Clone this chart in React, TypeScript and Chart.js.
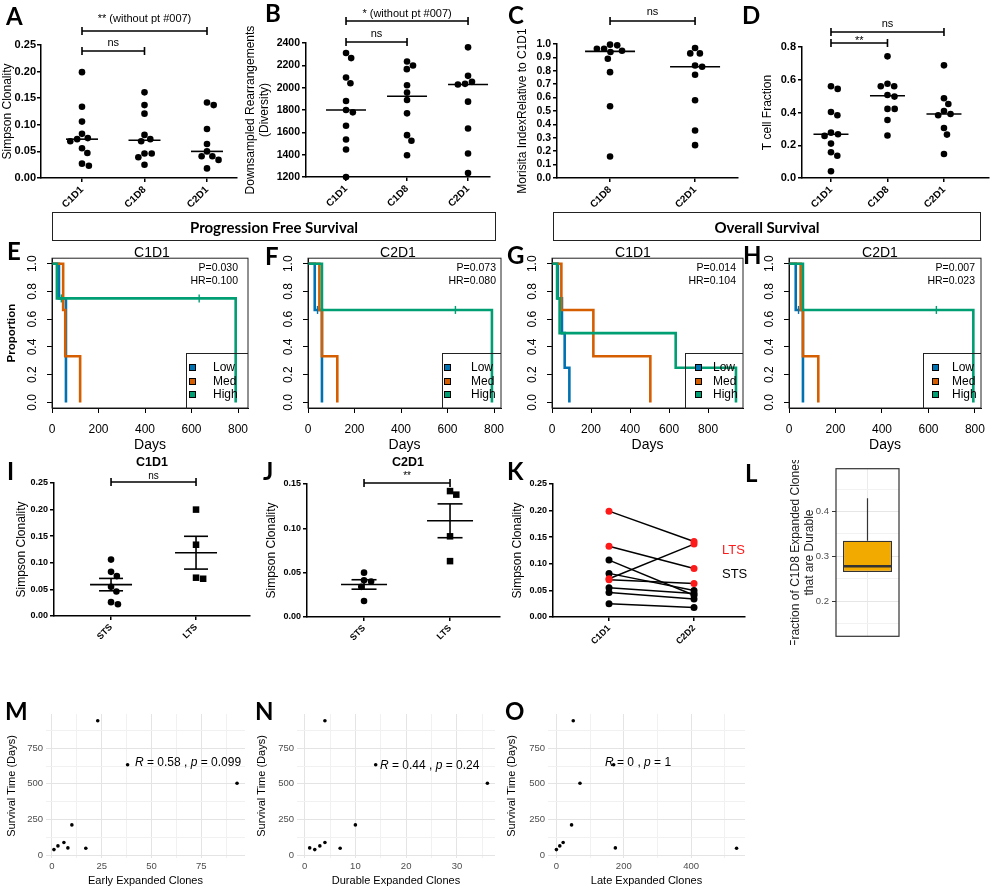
import React, { useEffect, useRef } from 'react';
import { Chart, registerables } from 'chart.js';

Chart.register(...registerables);

const SANS = '"Liberation Sans", Arial, Helvetica, sans-serif';
const LATO = 'Lato, "Liberation Sans", sans-serif';
Chart.defaults.font.family = SANS;
Chart.defaults.color = '#000';

// ---------------- DATA ----------------
const A_CATS = ['C1D1', 'C1D8', 'C2D1'];
const A_C1D1 = [0.199, 0.134, 0.106, 0.083, 0.075, 0.073, 0.069, 0.056, 0.047, 0.027, 0.023];
const A_C1D8 = [0.161, 0.137, 0.121, 0.081, 0.073, 0.069, 0.046, 0.046, 0.039, 0.025];
const A_C2D1 = [0.142, 0.137, 0.092, 0.064, 0.05, 0.041, 0.041, 0.034, 0.018];
const A_Y_TICKS = [0, 0.05, 0.1, 0.15, 0.2, 0.25];
const A_SIG = ['** (without pt #007)', 'ns'];

const B_C1D1 = [2310, 2265, 2091, 2040, 1881, 1800, 1779, 1659, 1536, 1446, 1200];
const B_C1D8 = [2235, 2199, 2166, 2022, 1956, 1890, 1770, 1575, 1524, 1395];
const B_C2D1 = [2361, 2106, 2052, 2034, 2028, 1875, 1635, 1410, 1236];
const B_Y_TICKS = [1200, 1400, 1600, 1800, 2000, 2200, 2400];
const B_SIG = ['* (without pt #007)', 'ns'];

const C_CATS = ['C1D8', 'C2D1'];
const C_C1D8 = [0.995, 0.99, 0.965, 0.965, 0.95, 0.94, 0.89, 0.79, 0.535, 0.16];
const C_C2D1 = [0.97, 0.93, 0.93, 0.84, 0.83, 0.77, 0.58, 0.355, 0.245];
const C_Y_TICKS = [0, 0.1, 0.2, 0.3, 0.4, 0.5, 0.6, 0.7, 0.8, 0.9, 1.0];
const C_SIG = ['ns'];

const D_C1D1 = [0.56, 0.544, 0.403, 0.383, 0.277, 0.267, 0.257, 0.21, 0.157, 0.136, 0.041];
const D_C1D8 = [0.743, 0.576, 0.56, 0.56, 0.507, 0.497, 0.422, 0.422, 0.354, 0.26];
const D_C2D1 = [0.688, 0.487, 0.452, 0.409, 0.391, 0.383, 0.305, 0.265, 0.147];
const D_Y_TICKS = [0, 0.2, 0.4, 0.6, 0.8];
const D_SIG = ['ns', '**'];

const KM_X_TICKS = [0, 200, 400, 600, 800];
const KM_Y_TICKS = [0, 0.2, 0.4, 0.6, 0.8, 1.0];
const KM_GROUPS = ['Low', 'Med', 'High'];
const KM_COLORS = ['#0072B2', '#D55E00', '#009E73'];

const E_LOW_T = [0, 30, 60];
const E_LOW_S = [1, 0.75, 0];
const E_MED_T = [0, 48, 57, 121];
const E_MED_S = [1, 0.667, 0.333, 0];
const E_HIGH_T = [0, 21, 790];
const E_HIGH_S = [1, 0.75, 0];
const E_HIGH_CENS_T = [40, 633];
const E_HIGH_CENS_S = [0.75, 0.75];
const E_STATS = ['P=0.030', 'HR=0.100'];

const F_LOW_T = [0, 29, 60];
const F_LOW_S = [1, 0.667, 0];
const F_LOW_CENS_T = [41];
const F_LOW_CENS_S = [0.667];
const F_MED_T = [0, 49, 60, 126];
const F_MED_S = [1, 0.667, 0.333, 0];
const F_HIGH_T = [0, 60, 791];
const F_HIGH_S = [1, 0.667, 0];
const F_HIGH_CENS_T = [634];
const F_HIGH_CENS_S = [0.667];
const F_STATS = ['P=0.073', 'HR=0.080'];

const G_LOW_T = [0, 30, 51, 65, 89];
const G_LOW_S = [1, 0.75, 0.5, 0.25, 0];
const G_MED_T = [0, 48, 212, 504];
const G_MED_S = [1, 0.667, 0.333, 0];
const G_HIGH_T = [0, 26, 39, 634, 943];
const G_HIGH_S = [1, 0.75, 0.5, 0.25, 0];
const G_STATS = ['P=0.014', 'HR=0.104'];

const H_LOW_T = [0, 29, 60];
const H_LOW_S = [1, 0.667, 0];
const H_LOW_CENS_T = [41];
const H_LOW_CENS_S = [0.667];
const H_MED_T = [0, 50, 60, 126];
const H_MED_S = [1, 0.667, 0.333, 0];
const H_HIGH_T = [0, 60, 793];
const H_HIGH_S = [1, 0.667, 0];
const H_HIGH_CENS_T = [634];
const H_HIGH_CENS_S = [0.667];
const H_STATS = ['P=0.007', 'HR=0.023'];

const IJ_CATS = ['STS', 'LTS'];
const I_STS = [0.106, 0.083, 0.075, 0.055, 0.046, 0.026, 0.022];
const I_LTS = [0.2, 0.134, 0.072, 0.07];
const I_SIG = ['ns'];
const J_STS = [0.05, 0.0415, 0.04, 0.034, 0.018];
const J_LTS = [0.142, 0.138, 0.091, 0.063];
const J_Y_TICKS = [0, 0.05, 0.1, 0.15];
const J_SIG = ['**'];

const K_CATS = ['C1D1', 'C2D2'];
const K_LTS_C1D1 = [0.199, 0.133, 0.072, 0.07];
const K_LTS_C2D2 = [0.142, 0.091, 0.137, 0.063];
const K_STS_C1D1 = [0.107, 0.082, 0.055, 0.046, 0.025];
const K_STS_C2D2 = [0.041, 0.05, 0.044, 0.034, 0.018];

const L_LOWER = 0.265;
const L_Q1 = 0.265;
const L_MEDIAN = 0.278;
const L_Q3 = 0.335;
const L_UPPER = 0.43;
const L_Y_TICKS = [0.2, 0.3, 0.4];
const L_Y_MINOR = [0.15, 0.25, 0.35, 0.45];

const OS_DAYS = [943, 634, 504, 212, 89, 65, 51, 48, 39];
const M_EARLY = [23, 38, 93, 10, 6, 3, 8, 17, 1];
const N_DURABLE = [4, 14, 36, 10, 4, 3, 1, 7, 2];
const O_LATE = [50, 170, 70, 45, 20, 10, 175, 535, 0];
const MNO_Y_TICKS = [0, 250, 500, 750];
const MNO_Y_MINOR = [125, 375, 625, 875];
const M_X_TICKS = [0, 25, 50, 75];
const M_X_MINOR = [12.5, 37.5, 62.5, 87.5];
const N_X_TICKS = [0, 10, 20, 30];
const N_X_MINOR = [5, 15, 25, 35];
const O_X_TICKS = [0, 200, 400];
const O_X_MINOR = [100, 300, 500];
const M_STAT = ['0.58', '0.099'];
const N_STAT = ['0.44', '0.24'];
const O_STAT = ['0', '1'];

// ---------------- LAYOUT ----------------
const GEO: any = {
  A: { left: 0, top: 0, w: 240, h: 215, yW: 41, xH: 37, padTop: 45, padRight: 3 },
  B: { left: 240, top: 0, w: 253, h: 215, yW: 66, xH: 38, padTop: 43, padRight: 3 },
  C: { left: 500, top: 0, w: 241, h: 215, yW: 57, xH: 37, padTop: 44, padRight: 3 },
  D: { left: 745, top: 0, w: 247, h: 215, yW: 57, xH: 37, padTop: 47, padRight: 3 },
  E: { left: 0, top: 245, w: 258, h: 213, yW: 52, xH: 50, padTop: 13, padRight: 10 },
  F: { left: 253, top: 245, w: 261, h: 213, yW: 55, xH: 50, padTop: 13, padRight: 13 },
  G: { left: 500, top: 245, w: 246, h: 213, yW: 52, xH: 50, padTop: 13, padRight: 3 },
  H: { left: 737, top: 245, w: 258, h: 213, yW: 52, xH: 50, padTop: 13, padRight: 14 },
  I: { left: 0, top: 466, w: 253, h: 189, yW: 54, xH: 39, padTop: 17, padRight: 3 },
  J: { left: 252, top: 466, w: 251, h: 189, yW: 55, xH: 38, padTop: 18, padRight: 3 },
  K: { left: 498, top: 466, w: 250, h: 189, yW: 55, xH: 38, padTop: 18, padRight: 3 },
  L: { left: 785, top: 460, w: 120, h: 185, yW: 51, xH: 6, padTop: 7, padRight: 6 },
  M: { left: 0, top: 700, w: 250, h: 190, yW: 46, xH: 32, padTop: 14, padRight: 5 },
  N: { left: 250, top: 700, w: 250, h: 190, yW: 47, xH: 32, padTop: 14, padRight: 5 },
  O: { left: 500, top: 700, w: 250, h: 190, yW: 48, xH: 32, padTop: 14, padRight: 5 },
};

// ---------------- HELPERS ----------------
const median = (a: number[]) => {
  const s = [...a].sort((x, y) => x - y);
  const m = Math.floor(s.length / 2);
  return s.length % 2 ? s[m] : (s[m - 1] + s[m]) / 2;
};
const mean = (a: number[]) => a.reduce((p, c) => p + c, 0) / a.length;
const sem = (a: number[]) => {
  const m = mean(a);
  const sd = Math.sqrt(a.reduce((p, c) => p + (c - m) * (c - m), 0) / (a.length - 1));
  return sd / Math.sqrt(a.length);
};

function swarm(vals: number[], yPx: number, d: number): number[] {
  const idx = vals.map((_, i) => i).sort((a, b) => vals[b] - vals[a]);
  const placed: { x: number; y: number }[] = [];
  const out = vals.map(() => 0);
  for (const i of idx) {
    const y = vals[i] * yPx;
    const cands = [0];
    for (const p of placed) {
      const dy = Math.abs(p.y - y);
      if (dy < d) {
        const dx = Math.sqrt(d * d - dy * dy);
        cands.push(p.x + dx, p.x - dx);
      }
    }
    cands.sort((a, b) => Math.abs(a) - Math.abs(b) || b - a);
    const ok = cands.find((c) => placed.every((p) => Math.hypot(p.x - c, p.y - y) >= d - 1e-6));
    out[i] = ok === undefined ? 0 : ok;
    placed.push({ x: out[i], y });
  }
  return out;
}

function bracketPlugin(items: any[], font: string) {
  return {
    id: 'brackets',
    afterDatasetsDraw(chart: any) {
      const { ctx } = chart;
      const x = chart.scales.x;
      const y = chart.scales.y;
      ctx.save();
      ctx.strokeStyle = '#000';
      ctx.fillStyle = '#000';
      ctx.lineWidth = 1.6;
      ctx.font = font;
      ctx.textAlign = 'center';
      ctx.textBaseline = 'alphabetic';
      for (const b of items) {
        const x1 = x.getPixelForValue(b.x1);
        const x2 = x.getPixelForValue(b.x2);
        const yy = y.getPixelForValue(b.y);
        ctx.beginPath();
        ctx.moveTo(x1, yy);
        ctx.lineTo(x2, yy);
        ctx.moveTo(x1, yy - 4);
        ctx.lineTo(x1, yy + 4);
        ctx.moveTo(x2, yy - 4);
        ctx.lineTo(x2, yy + 4);
        ctx.stroke();
        ctx.fillText(b.text, (x1 + x2) / 2, yy - b.gap);
      }
      ctx.restore();
    },
  };
}

function framePlugin(color: string, width: number) {
  return {
    id: 'frame',
    afterDatasetsDraw(chart: any) {
      const { ctx, chartArea: a } = chart;
      ctx.save();
      ctx.strokeStyle = color;
      ctx.lineWidth = width;
      ctx.strokeRect(a.left, a.top, a.right - a.left, a.bottom - a.top);
      ctx.restore();
    },
  };
}

function baseOpts(g: any, scales: any) {
  return {
    responsive: false,
    animation: false,
    events: [],
    layout: { autoPadding: false, padding: { top: g.padTop, right: g.padRight, left: 0, bottom: 0 } },
    plugins: { legend: { display: false }, tooltip: { enabled: false } },
    scales,
  };
}

function tickMark(x: number, y: number, half: number, w: number, color = '#000') {
  return {
    type: 'scatter',
    data: [{ x, y }],
    pointStyle: 'line',
    pointRadius: half,
    pointBorderColor: color,
    borderColor: color,
    pointBorderWidth: w,
    clip: false,
  };
}

function gpX(s: any) {
  return {
    type: 'linear',
    min: s.xMin,
    max: s.xMax,
    afterBuildTicks: (sc: any) => {
      sc.ticks = s.cats.map((_: any, i: number) => ({ value: i + 1 }));
    },
    afterFit: (sc: any) => {
      sc.height = s.xH;
    },
    ticks: {
      autoSkip: false,
      minRotation: 45,
      maxRotation: 45,
      font: { size: s.catSize, weight: 'bold' },
      color: '#000',
      padding: 2,
      callback: (_v: any, i: number) => s.cats[i],
    },
    grid: { drawOnChartArea: false, drawTicks: true, tickLength: 4, color: '#000', lineWidth: 1.5 },
    border: { display: true, color: '#000', width: 1.5 },
  };
}

function gpY(s: any) {
  return {
    type: 'linear',
    min: s.yMin,
    max: s.yMax,
    afterBuildTicks: (sc: any) => {
      sc.ticks = s.yTicks.map((v: number) => ({ value: v }));
    },
    afterFit: (sc: any) => {
      sc.width = s.yW;
    },
    ticks: {
      autoSkip: false,
      font: { size: s.tickSize, weight: 'bold' },
      color: '#000',
      padding: s.tickPad === undefined ? 2 : s.tickPad,
      callback: (v: any) => Number(v).toFixed(s.yDec),
    },
    grid: { drawOnChartArea: false, drawTicks: true, tickLength: 4, color: '#000', lineWidth: 1.5 },
    border: { display: true, color: '#000', width: 1.5 },
    title: {
      display: true,
      text: s.title,
      font: { size: s.titleSize },
      color: '#000',
      padding: { top: s.titlePad, bottom: 0 },
    },
  };
}

function dotChart(s: any) {
  const plotW = s.w - s.yW - s.padRight;
  const plotH = s.h - s.padTop - s.xH;
  const xPx = plotW / (s.xMax - s.xMin);
  const yPx = plotH / (s.yMax - s.yMin);
  const paint: any[] = [];
  const centers: any[] = [];
  s.groups.forEach((vals: number[], gi: number) => {
    const g = gi + 1;
    const shape = s.shapes ? s.shapes[gi] : 'circle';
    const r = shape === 'rect' ? s.dot * 1.4 : s.dot;
    const offs = swarm(vals, yPx, s.dot * 2 + 0.6);
    paint.push({
      type: 'scatter',
      data: vals.map((v, i) => ({ x: g + offs[i] / xPx, y: v })),
      pointStyle: shape,
      pointRadius: r,
      pointBackgroundColor: '#000',
      pointBorderColor: '#000',
      pointBorderWidth: 0,
      clip: false,
    });
    if (s.center === 'median') {
      centers.push(tickMark(g, median(vals), s.centerHalf, 1.6));
    } else {
      const m = mean(vals);
      const e = sem(vals);
      centers.push(tickMark(g, m, s.centerHalf, 1.6));
      centers.push(tickMark(g, m + e, s.semHalf, 1.6));
      centers.push(tickMark(g, m - e, s.semHalf, 1.6));
      centers.push({
        type: 'scatter',
        showLine: true,
        data: [{ x: g, y: m - e }, { x: g, y: m + e }],
        borderColor: '#000',
        borderWidth: 1.6,
        pointRadius: 0,
        clip: false,
      });
    }
  });
  const datasets = [...paint, ...centers].reverse();
  return {
    type: 'scatter',
    data: { datasets },
    options: baseOpts(s, { x: gpX(s), y: gpY(s) }),
    plugins: [bracketPlugin(s.brackets || [], s.bracketFont)],
  };
}

function kmChart(s: any) {
  const paint: any[] = [];
  s.curves.forEach((c: any, i: number) => {
    paint.push({
      type: 'scatter',
      showLine: true,
      stepped: true,
      data: c.t.map((t: number, k: number) => ({ x: t, y: c.s[k] })),
      borderColor: KM_COLORS[i],
      borderWidth: 2.6,
      pointRadius: 0,
      clip: false,
    });
    if (c.ct) {
      paint.push({
        type: 'scatter',
        data: c.ct.map((t: number, k: number) => ({ x: t, y: c.cs[k] })),
        pointStyle: 'line',
        rotation: 90,
        pointRadius: 4,
        pointBorderColor: KM_COLORS[i],
        borderColor: KM_COLORS[i],
        pointBorderWidth: 1.4,
        clip: false,
      });
    }
  });
  const datasets = paint.reverse();
  const axisGrid = { drawOnChartArea: false, drawTicks: true, tickLength: 5, color: '#000', lineWidth: 1 };
  return {
    type: 'scatter',
    data: { datasets },
    options: baseOpts(s, {
      x: {
        type: 'linear',
        min: 0,
        max: s.xMax,
        afterBuildTicks: (sc: any) => {
          sc.ticks = KM_X_TICKS.map((v) => ({ value: v }));
        },
        afterFit: (sc: any) => {
          sc.height = s.xH;
        },
        ticks: { autoSkip: false, maxRotation: 0, font: { size: 12 }, color: '#000', padding: 9 },
        grid: axisGrid,
        border: { display: true, color: '#000', width: 1 },
        title: { display: true, text: 'Days', font: { size: 14 }, color: '#000', padding: { top: 0, bottom: 4 } },
      },
      y: {
        type: 'linear',
        min: -0.04,
        max: 1.04,
        afterBuildTicks: (sc: any) => {
          sc.ticks = KM_Y_TICKS.map((v) => ({ value: v }));
        },
        afterFit: (sc: any) => {
          sc.width = s.yW;
        },
        ticks: {
          autoSkip: false,
          minRotation: 90,
          maxRotation: 90,
          crossAlign: 'center',
          font: { size: 12 },
          color: '#000',
          padding: 6,
          callback: (v: any) => Number(v).toFixed(1),
        },
        grid: axisGrid,
        border: { display: true, color: '#000', width: 1 },
        title: {
          display: !!s.yTitle,
          text: s.yTitle || '',
          font: { size: 11.5, weight: 'bold' },
          color: '#000',
          padding: { top: 5, bottom: 0 },
        },
      },
    }),
    plugins: [framePlugin('#222', 1)],
  };
}

function pairedChart(s: any) {
  const lines: any[] = [];
  const pts: any[] = [];
  s.pairs.forEach((p: any) => {
    p.a.forEach((v: number, i: number) => {
      lines.push({
        type: 'scatter',
        showLine: true,
        data: [{ x: 1, y: v }, { x: 2, y: p.b[i] }],
        borderColor: '#000',
        borderWidth: 1.5,
        pointRadius: 0,
        clip: false,
      });
    });
    pts.push({
      type: 'scatter',
      data: [...p.a.map((v: number) => ({ x: 1, y: v })), ...p.b.map((v: number) => ({ x: 2, y: v }))],
      pointRadius: 3.5,
      pointBackgroundColor: p.color,
      pointBorderColor: p.color,
      pointBorderWidth: 0,
      clip: false,
    });
  });
  const datasets = [...lines, ...pts].reverse();
  return {
    type: 'scatter',
    data: { datasets },
    options: baseOpts(s, { x: gpX(s), y: gpY(s) }),
  };
}

function boxChart(g: any) {
  const paint = [
    {
      type: 'bar',
      data: [[L_Q1, L_Q3]],
      backgroundColor: '#F2A900',
      borderColor: '#333',
      borderWidth: 1.4,
      borderSkipped: false,
      barPercentage: 1,
      categoryPercentage: 0.78,
    },
    {
      type: 'line',
      data: [{ x: 'L', y: L_Q3 }, { x: 'L', y: L_UPPER }],
      borderColor: '#333',
      borderWidth: 1.2,
      pointRadius: 0,
    },
    {
      type: 'line',
      data: [{ x: 'L', y: L_LOWER }, { x: 'L', y: L_Q1 }],
      borderColor: '#333',
      borderWidth: 1.2,
      pointRadius: 0,
    },
    {
      type: 'line',
      data: [{ x: 'L', y: L_MEDIAN }],
      showLine: false,
      pointStyle: 'line',
      pointRadius: 24.5,
      pointBorderColor: '#333',
      borderColor: '#333',
      pointBorderWidth: 2.6,
    },
  ];
  const isMajor = (v: number) => L_Y_TICKS.includes(v);
  return {
    type: 'bar',
    data: { labels: ['L'], datasets: paint.reverse() },
    options: baseOpts(g, {
      x: {
        type: 'category',
        offset: true,
        afterFit: (sc: any) => {
          sc.height = g.xH;
        },
        ticks: { display: false },
        grid: { offset: false, color: '#EBEBEB', lineWidth: 1, drawTicks: false },
        border: { display: false },
      },
      y: {
        type: 'linear',
        min: 0.1217,
        max: 0.4957,
        afterBuildTicks: (sc: any) => {
          sc.ticks = [...L_Y_TICKS, ...L_Y_MINOR].sort((a, b) => a - b).map((v) => ({ value: v }));
        },
        afterFit: (sc: any) => {
          sc.width = g.yW;
        },
        ticks: {
          autoSkip: false,
          font: { size: 9.5 },
          color: '#4D4D4D',
          padding: 3,
          callback: (v: any) => (isMajor(v) ? Number(v).toFixed(1) : ''),
        },
        grid: {
          drawTicks: true,
          tickLength: 4,
          color: (c: any) => (c.tick && isMajor(c.tick.value) ? '#E6E6E6' : '#F2F2F2'),
          tickColor: (c: any) => (c.tick && isMajor(c.tick.value) ? '#333' : 'rgba(0,0,0,0)'),
          lineWidth: 1,
        },
        border: { display: false },
        title: {
          display: true,
          text: ['Fraction of C1D8 Expanded Clones', 'that are Durable'],
          font: { size: 12 },
          color: '#1a1a1a',
          padding: { top: 3, bottom: 0 },
        },
      },
    }),
    plugins: [framePlugin('#333', 1.2)],
  };
}

function ggScatter(g: any, xs: number[], xMin: number, xMax: number, xMaj: number[], xMin2: number[], xTitle: string) {
  const gridColor = (maj: number[]) => (c: any) => (c.tick && maj.includes(c.tick.value) ? '#E4E4E4' : '#F1F1F1');
  return {
    type: 'scatter',
    data: {
      datasets: [
        {
          data: xs.map((x, i) => ({ x, y: OS_DAYS[i] })),
          pointRadius: 1.8,
          pointBackgroundColor: '#000',
          pointBorderWidth: 0,
          clip: false,
        },
      ],
    },
    options: baseOpts(g, {
      x: {
        type: 'linear',
        min: xMin,
        max: xMax,
        afterBuildTicks: (sc: any) => {
          sc.ticks = [...xMaj, ...xMin2].sort((a, b) => a - b).map((v) => ({ value: v }));
        },
        afterFit: (sc: any) => {
          sc.height = g.xH;
        },
        ticks: {
          autoSkip: false,
          maxRotation: 0,
          font: { size: 9.5 },
          color: '#4D4D4D',
          padding: 3,
          callback: (v: any) => (xMaj.includes(v) ? String(v) : ''),
        },
        grid: { drawTicks: false, color: gridColor(xMaj), lineWidth: 1 },
        border: { display: false },
        title: { display: true, text: xTitle, font: { size: 11 }, color: '#000', padding: { top: 0, bottom: 2 } },
      },
      y: {
        type: 'linear',
        min: -20,
        max: 990,
        afterBuildTicks: (sc: any) => {
          sc.ticks = [...MNO_Y_TICKS, ...MNO_Y_MINOR].sort((a, b) => a - b).map((v) => ({ value: v }));
        },
        afterFit: (sc: any) => {
          sc.width = g.yW;
        },
        ticks: {
          autoSkip: false,
          font: { size: 9.5 },
          color: '#4D4D4D',
          padding: 3,
          callback: (v: any) => (MNO_Y_TICKS.includes(v) ? String(v) : ''),
        },
        grid: { drawTicks: false, color: gridColor(MNO_Y_TICKS), lineWidth: 1 },
        border: { display: false },
        title: {
          display: true,
          text: 'Survival Time (Days)',
          font: { size: 11 },
          color: '#000',
          padding: { top: 5, bottom: 0 },
        },
      },
    }),
  };
}

// ---------------- CONFIGS ----------------
const makeA = () =>
  dotChart({
    ...GEO.A, xMin: 0.344, xMax: 3.48, cats: A_CATS, groups: [A_C1D1, A_C1D8, A_C2D1],
    yMin: 0, yMax: 0.25, yTicks: A_Y_TICKS, yDec: 2, title: 'Simpson Clonality', titlePad: 0, titleSize: 12,
    tickSize: 11, tickPad: 1, catSize: 10, center: 'median', centerHalf: 16, dot: 3.3,
    brackets: [
      { x1: 1, x2: 3, y: 0.2763, text: A_SIG[0], gap: 9 },
      { x1: 1, x2: 2, y: 0.2387, text: A_SIG[1], gap: 5 },
    ],
    bracketFont: '11px ' + SANS,
  });

const makeB = () =>
  dotChart({
    ...GEO.B, xMin: 0.344, xMax: 3.36, cats: A_CATS, groups: [B_C1D1, B_C1D8, B_C2D1],
    yMin: 1200, yMax: 2400, yTicks: B_Y_TICKS, yDec: 0, title: ['Downsampled Rearrangements', '(Diversity)'],
    titlePad: 3, titleSize: 12, tickSize: 10.5, catSize: 10, center: 'median', centerHalf: 20, dot: 3.3,
    brackets: [
      { x1: 1, x2: 3, y: 2597, text: B_SIG[0], gap: 4 },
      { x1: 1, x2: 2, y: 2409, text: B_SIG[1], gap: 5 },
    ],
    bracketFont: '11px ' + SANS,
  });

const makeC = () =>
  dotChart({
    ...GEO.C, xMin: 0.376, xMax: 2.505, cats: C_CATS, groups: [C_C1D8, C_C2D1],
    yMin: 0, yMax: 1, yTicks: C_Y_TICKS, yDec: 1, title: 'Morisita IndexRelative to C1D1', titlePad: 15,
    titleSize: 12, tickSize: 10.5, catSize: 10, center: 'median', centerHalf: 25, dot: 3.3,
    brackets: [{ x1: 1, x2: 2, y: 1.1716, text: C_SIG[0], gap: 6 }],
    bracketFont: '11px ' + SANS,
  });

const makeD = () =>
  dotChart({
    ...GEO.D, xMin: 0.487, xMax: 3.797, cats: A_CATS, groups: [D_C1D1, D_C1D8, D_C2D1],
    yMin: 0, yMax: 0.8, yTicks: D_Y_TICKS, yDec: 1, title: 'T cell Fraction', titlePad: 15,
    titleSize: 12, tickSize: 11, catSize: 10, center: 'median', centerHalf: 17.5, dot: 3.3,
    brackets: [
      { x1: 1, x2: 3, y: 0.8916, text: D_SIG[0], gap: 5 },
      { x1: 1, x2: 2, y: 0.8244, text: D_SIG[1], gap: -1 },
    ],
    bracketFont: '11px ' + SANS,
  });

const makeE = () =>
  kmChart({
    ...GEO.E, xMax: 843, yTitle: 'Proportion',
    curves: [
      { t: E_LOW_T, s: E_LOW_S },
      { t: E_MED_T, s: E_MED_S },
      { t: E_HIGH_T, s: E_HIGH_S, ct: E_HIGH_CENS_T, cs: E_HIGH_CENS_S },
    ],
  });
const makeF = () =>
  kmChart({
    ...GEO.F, xMax: 830,
    curves: [
      { t: F_LOW_T, s: F_LOW_S, ct: F_LOW_CENS_T, cs: F_LOW_CENS_S },
      { t: F_MED_T, s: F_MED_S },
      { t: F_HIGH_T, s: F_HIGH_S, ct: F_HIGH_CENS_T, cs: F_HIGH_CENS_S },
    ],
  });
const makeG = () =>
  kmChart({
    ...GEO.G, xMax: 979,
    curves: [
      { t: G_LOW_T, s: G_LOW_S },
      { t: G_MED_T, s: G_MED_S },
      { t: G_HIGH_T, s: G_HIGH_S },
    ],
  });
const makeH = () =>
  kmChart({
    ...GEO.H, xMax: 826,
    curves: [
      { t: H_LOW_T, s: H_LOW_S, ct: H_LOW_CENS_T, cs: H_LOW_CENS_S },
      { t: H_MED_T, s: H_MED_S },
      { t: H_HIGH_T, s: H_HIGH_S, ct: H_HIGH_CENS_T, cs: H_HIGH_CENS_S },
    ],
  });

const makeI = () =>
  dotChart({
    ...GEO.I, xMin: 0.329, xMax: 2.635, cats: IJ_CATS, groups: [I_STS, I_LTS], shapes: ['circle', 'rect'],
    yMin: 0, yMax: 0.25, yTicks: A_Y_TICKS, yDec: 2, title: 'Simpson Clonality', titlePad: 14, titleSize: 12,
    tickSize: 9, catSize: 9, center: 'meanSem', centerHalf: 21, semHalf: 12, dot: 3.3,
    brackets: [{ x1: 1, x2: 2, y: 0.2519, text: I_SIG[0], gap: 3 }],
    bracketFont: '10px ' + SANS,
  });
const makeJ = () =>
  dotChart({
    ...GEO.J, xMin: 0.337, xMax: 2.581, cats: IJ_CATS, groups: [J_STS, J_LTS], shapes: ['circle', 'rect'],
    yMin: 0, yMax: 0.15, yTicks: J_Y_TICKS, yDec: 2, title: 'Simpson Clonality', titlePad: 12.8, titleSize: 12,
    tickSize: 9, catSize: 9, center: 'meanSem', centerHalf: 23, semHalf: 12.5, dot: 3.3,
    brackets: [{ x1: 1, x2: 2, y: 0.1511, text: J_SIG[0], gap: 4 }],
    bracketFont: '10px ' + SANS,
  });
const makeK = () =>
  pairedChart({
    ...GEO.K, xMin: 0.341, xMax: 2.6, cats: K_CATS, yMin: 0, yMax: 0.25, yTicks: A_Y_TICKS, yDec: 2,
    title: 'Simpson Clonality', titlePad: 12.8, titleSize: 12, tickSize: 9, catSize: 9,
    pairs: [
      { a: K_STS_C1D1, b: K_STS_C2D2, color: '#000' },
      { a: K_LTS_C1D1, b: K_LTS_C2D2, color: '#FF1A1A' },
    ],
  });
const makeL = () => boxChart(GEO.L);
const makeM = () => ggScatter(GEO.M, M_EARLY, -3, 97, M_X_TICKS, M_X_MINOR, 'Early Expanded Clones');
const makeN = () => ggScatter(GEO.N, N_DURABLE, -1.5, 37.5, N_X_TICKS, N_X_MINOR, 'Durable Expanded Clones');
const makeO = () => ggScatter(GEO.O, O_LATE, -25, 560, O_X_TICKS, O_X_MINOR, 'Late Expanded Clones');

// ---------------- COMPONENTS ----------------
function ChartBox({ geo, make }: { geo: any; make: () => any }) {
  const ref = useRef<HTMLCanvasElement>(null);
  useEffect(() => {
    const c = new Chart(ref.current as HTMLCanvasElement, make());
    return () => c.destroy();
  }, []);
  return (
    <canvas
      ref={ref}
      width={geo.w}
      height={geo.h}
      style={{ position: 'absolute', left: geo.left, top: geo.top, width: geo.w, height: geo.h }}
    />
  );
}

function Txt(p: any) {
  const { x, y, size, family = SANS, weight = 400, align = 'left', color = '#000', children } = p;
  const tx = align === 'center' ? '-50%' : align === 'right' ? '-100%' : '0';
  return (
    <div
      style={{
        position: 'absolute',
        left: x,
        top: y - size * 0.6,
        fontSize: size,
        lineHeight: `${size * 1.2}px`,
        fontFamily: family,
        fontWeight: weight,
        color,
        whiteSpace: 'nowrap',
        transform: `translateX(${tx})`,
      }}
    >
      {children}
    </div>
  );
}

const LETTERS = [
  ['A', 6, 8], ['B', 265, 5], ['C', 508, 7], ['D', 742, 7],
  ['E', 7, 243], ['F', 265, 248], ['G', 507, 247], ['H', 743, 247],
  ['I', 7, 463], ['J', 263, 463], ['K', 507, 463], ['L', 745, 465],
  ['M', 5, 703], ['N', 255, 703], ['O', 505, 703],
];

const KM_TEXT = [
  { title: 'C1D1', cx: 152, right: 238, stats: E_STATS, leg: { left: 186, sq: 189, text: 213, right: 248 } },
  { title: 'C2D1', cx: 398, right: 496, stats: F_STATS, leg: { left: 442, sq: 444, text: 471, right: 501 } },
  { title: 'C1D1', cx: 633, right: 736, stats: G_STATS, leg: { left: 685, sq: 695, text: 713, right: 743 } },
  { title: 'C2D1', cx: 880, right: 975, stats: H_STATS, leg: { left: 923, sq: 932, text: 952, right: 981 } },
];
const LEG_ROWS = [367, 381, 394];

function Header({ left, right, text }: any) {
  return (
    <div
      style={{
        position: 'absolute',
        left,
        top: 212,
        width: right - left,
        height: 29,
        boxSizing: 'border-box',
        border: '1.5px solid #222',
        display: 'flex',
        alignItems: 'center',
        justifyContent: 'center',
        fontFamily: LATO,
        fontWeight: 700,
        fontSize: 15,
        color: '#000',
      }}
    >
      {text}
    </div>
  );
}

function Stat({ x, y, r, p }: any) {
  return (
    <Txt x={x} y={y} size={12}>
      <i>R</i> = {r} , <i>p</i> = {p}
    </Txt>
  );
}

export default function App() {
  return (
    <div style={{ position: 'absolute', left: 0, top: 0, width: 995, height: 890, background: '#fff', overflow: 'hidden' }}>
      <ChartBox geo={GEO.A} make={makeA} />
      <ChartBox geo={GEO.B} make={makeB} />
      <ChartBox geo={GEO.C} make={makeC} />
      <ChartBox geo={GEO.D} make={makeD} />
      <ChartBox geo={GEO.E} make={makeE} />
      <ChartBox geo={GEO.F} make={makeF} />
      <ChartBox geo={GEO.G} make={makeG} />
      <ChartBox geo={GEO.H} make={makeH} />
      <ChartBox geo={GEO.I} make={makeI} />
      <ChartBox geo={GEO.J} make={makeJ} />
      <ChartBox geo={GEO.K} make={makeK} />
      <ChartBox geo={GEO.L} make={makeL} />
      <ChartBox geo={GEO.M} make={makeM} />
      <ChartBox geo={GEO.N} make={makeN} />
      <ChartBox geo={GEO.O} make={makeO} />

      <Header left={52} right={496} text="Progression Free Survival" />
      <Header left={553} right={981} text="Overall Survival" />

      {KM_TEXT.map((k, i) => (
        <React.Fragment key={i}>
          <Txt x={k.cx} y={252} size={14} align="center">{k.title}</Txt>
          <Txt x={k.right} y={267} size={10.5} align="right">{k.stats[0]}</Txt>
          <Txt x={k.right} y={280} size={10.5} align="right">{k.stats[1]}</Txt>
          <div
            style={{
              position: 'absolute',
              left: k.leg.left,
              top: 353,
              width: k.leg.right - k.leg.left,
              height: 56,
              boxSizing: 'border-box',
              borderLeft: '1px solid #222',
              borderTop: '1px solid #222',
            }}
          />
          {KM_GROUPS.map((gname, gi) => (
            <React.Fragment key={gname}>
              <div
                style={{
                  position: 'absolute',
                  left: k.leg.sq,
                  top: LEG_ROWS[gi] - 3.5,
                  width: 7,
                  height: 7,
                  boxSizing: 'border-box',
                  background: KM_COLORS[gi],
                  border: '1px solid #000',
                }}
              />
              <Txt x={k.leg.text} y={LEG_ROWS[gi]} size={12}>{gname}</Txt>
            </React.Fragment>
          ))}
        </React.Fragment>
      ))}

      <Txt x={152} y={462} size={12.5} weight={700} align="center">C1D1</Txt>
      <Txt x={408} y={462} size={12.5} weight={700} align="center">C2D1</Txt>
      <Txt x={722} y={550} size={13} color="#FF1A1A">LTS</Txt>
      <Txt x={722} y={574} size={13}>STS</Txt>

      <Stat x={135} y={762} r={M_STAT[0]} p={M_STAT[1]} />
      <Stat x={380} y={765} r={N_STAT[0]} p={N_STAT[1]} />
      <Stat x={605} y={762} r={O_STAT[0]} p={O_STAT[1]} />

      {LETTERS.map(([t, x, y]) => (
        <div
          key={t as string}
          style={{
            position: 'absolute',
            left: x as number,
            top: (y as number) - 6,
            fontFamily: LATO,
            fontWeight: 700,
            fontSize: 24,
            lineHeight: '28.8px',
            color: '#000',
          }}
        >
          {t}
        </div>
      ))}
    </div>
  );
}
